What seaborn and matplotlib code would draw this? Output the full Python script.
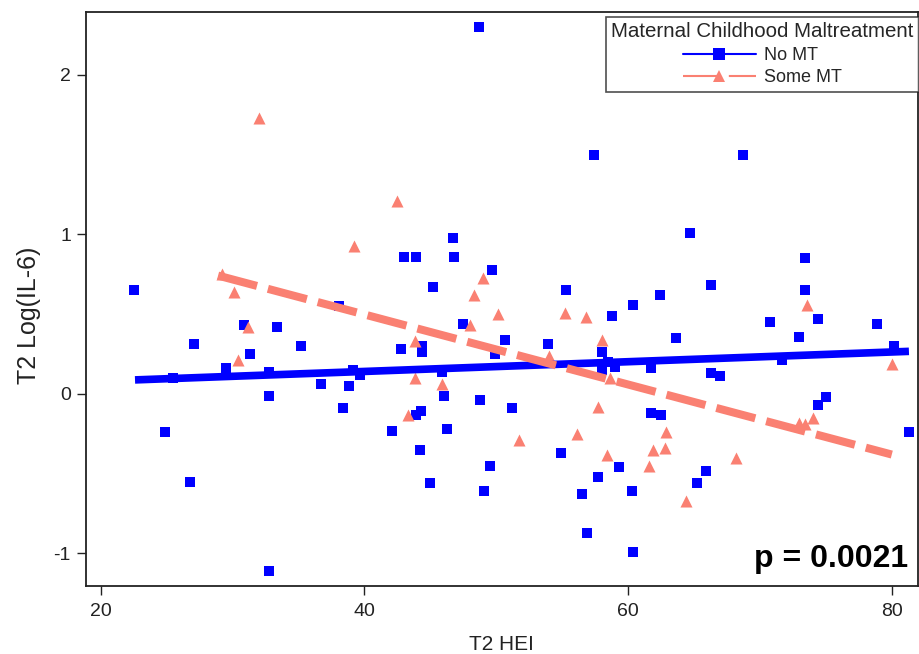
import matplotlib
matplotlib.use("Agg")
import matplotlib.pyplot as plt
from matplotlib.lines import Line2D
import numpy as np
import pandas as pd
import seaborn as sns

# ---------------- data ----------------
no_mt_x = [22.5, 24.9, 25.5, 26.8, 27.1, 29.5, 30.9, 31.3, 32.8, 32.8, 32.8, 33.4,
           35.2, 36.7, 38.1, 38.4, 38.8, 39.1, 39.7,
           42.1, 42.8, 43.0, 43.9, 43.9, 44.2, 44.3, 44.4, 44.4, 45.0, 45.2, 45.9,
           46.0, 46.3, 46.7, 46.8, 47.5, 48.7, 48.8, 49.1, 49.5, 49.7, 49.9, 50.7,
           51.2, 53.9, 54.9, 55.3, 56.5, 56.9, 57.4, 57.7, 58.0, 58.0, 58.5, 58.8,
           59.0, 59.3, 60.3, 60.4, 60.4,
           61.7, 61.7, 62.4, 62.5, 63.6, 64.7, 65.2, 65.9, 66.3, 66.3, 67.0, 68.7,
           70.8, 71.7, 73.0, 73.4, 73.4, 74.4, 74.4, 75.0, 78.9, 80.2, 81.3]
no_mt_y = [0.65, -0.24, 0.10, -0.55, 0.31, 0.16, 0.43, 0.25, 0.14, -0.01, -1.11, 0.42,
           0.30, 0.06, 0.55, -0.09, 0.05, 0.15, 0.12,
           -0.23, 0.28, 0.86, 0.86, -0.13, -0.35, -0.11, 0.30, 0.26, -0.56, 0.67, 0.14,
           -0.01, -0.22, 0.98, 0.86, 0.44, 2.30, -0.04, -0.61, -0.45, 0.78, 0.25, 0.34,
           -0.09, 0.31, -0.37, 0.65, -0.63, -0.87, 1.50, -0.52, 0.26, 0.15, 0.20, 0.49,
           0.17, -0.46, -0.61, 0.56, -0.99,
           0.16, -0.12, 0.62, -0.13, 0.35, 1.01, -0.56, -0.48, 0.68, 0.13, 0.11, 1.50,
           0.45, 0.21, 0.36, 0.85, 0.65, 0.47, -0.07, -0.02, 0.44, 0.30, -0.24]

some_mt_x = [29.2, 30.1, 30.4, 31.2, 32.0, 39.2, 42.5, 43.3, 43.8, 43.8, 45.9, 48.0,
             48.3, 49.0, 50.1, 51.7, 54.0, 55.2, 56.1, 56.8, 57.7, 58.0, 58.4, 58.6,
             61.6, 61.9, 62.8, 62.9, 64.4, 68.2, 73.0, 73.4, 73.6, 74.0, 80.0]
some_mt_y = [0.75, 0.64, 0.21, 0.42, 1.73, 0.93, 1.21, -0.13, 0.33, 0.10, 0.06, 0.43,
             0.62, 0.73, 0.50, -0.29, 0.24, 0.51, -0.25, 0.48, -0.08, 0.34, -0.38, 0.10,
             -0.45, -0.35, -0.34, -0.24, -0.67, -0.40, -0.18, -0.19, 0.56, -0.15, 0.19]

# fitted lines (endpoints of the model fit per group)
fit_no_x = [22.6, 81.3]
fit_no_y = [0.088, 0.267]
fit_some_x = [28.9, 80.0]
fit_some_y = [0.742, -0.38]

x_ticks = [20, 40, 60, 80]
y_ticks = [-1, 0, 1, 2]
group_labels = ["No MT", "Some MT"]
legend_title = "Maternal Childhood Maltreatment"
p_text = "p = 0.0021"

BLUE = "#0000FF"
SALMON = "#FA8072"

# ---------------- plot ----------------
sns.set_theme(style="white")
plt.rcParams["font.family"] = ["Liberation Sans", "DejaVu Sans"]
plt.rcParams["axes.unicode_minus"] = False

fig = plt.figure(figsize=(9.2, 6.54), dpi=100)
ax = fig.add_axes([0.093, 0.104, 0.905, 0.878])

df_no = pd.DataFrame({"hei": no_mt_x, "il6": no_mt_y})
df_some = pd.DataFrame({"hei": some_mt_x, "il6": some_mt_y})

sns.scatterplot(data=df_no, x="hei", y="il6", color=BLUE, marker="s", s=62,
                linewidth=0, ax=ax, zorder=2, legend=False)
sns.scatterplot(data=df_some, x="hei", y="il6", color=SALMON, marker="^", s=75,
                linewidth=0, ax=ax, zorder=2, legend=False)

sns.lineplot(x=fit_no_x, y=fit_no_y, color=BLUE, linewidth=5.5, ax=ax,
             zorder=3, solid_capstyle="butt")
sns.lineplot(x=fit_some_x, y=fit_some_y, color=SALMON, linewidth=5.8, ax=ax,
             zorder=4, linestyle=(0, (5.0, 1.4)))

ax.set_xlim(18.85, 82.0)
ax.set_ylim(-1.204, 2.396)
ax.set_xticks(x_ticks)
ax.set_yticks(y_ticks)
ax.tick_params(axis="both", direction="out", length=6.5, width=1.0,
               labelsize=14, colors="#222222", bottom=True, left=True)
ax.tick_params(axis="x", pad=6)
ax.tick_params(axis="y", pad=4)
for sp in ax.spines.values():
    sp.set_color("#222222")
    sp.set_linewidth(1.3)

ax.set_xlabel("T2 HEI", fontsize=15, color="#222222")
ax.set_ylabel("T2 Log(IL-6)", fontsize=18, color="#222222")
ax.xaxis.set_label_coords(0.5, -0.085)
ax.yaxis.set_label_coords(-0.0536, 0.472)

ax.text(0.988, 0.033, p_text, transform=ax.transAxes, ha="right", va="baseline",
        fontsize=23, fontweight="bold", color="black")

handles = [
    Line2D([0], [0], color=BLUE, lw=1.5, marker="s", markersize=8,
           markeredgewidth=0),
    Line2D([0], [0], color=SALMON, lw=1.5, marker="^", markersize=9,
           markeredgewidth=0, linestyle=(0, (18, 4))),
]
leg = ax.legend(handles, group_labels, title=legend_title, loc="upper right",
                bbox_to_anchor=(919 / 920, (654 - 17) / 654),
                bbox_transform=fig.transFigure, borderaxespad=0,
                fontsize=13, title_fontsize=14.8, frameon=True, fancybox=False,
                handlelength=4.0, handletextpad=0.45, labelspacing=0.3,
                borderpad=0.3)
leg.get_frame().set_edgecolor("#222222")
leg.get_frame().set_linewidth(1.2)

fig.savefig("out.png", dpi=100)
